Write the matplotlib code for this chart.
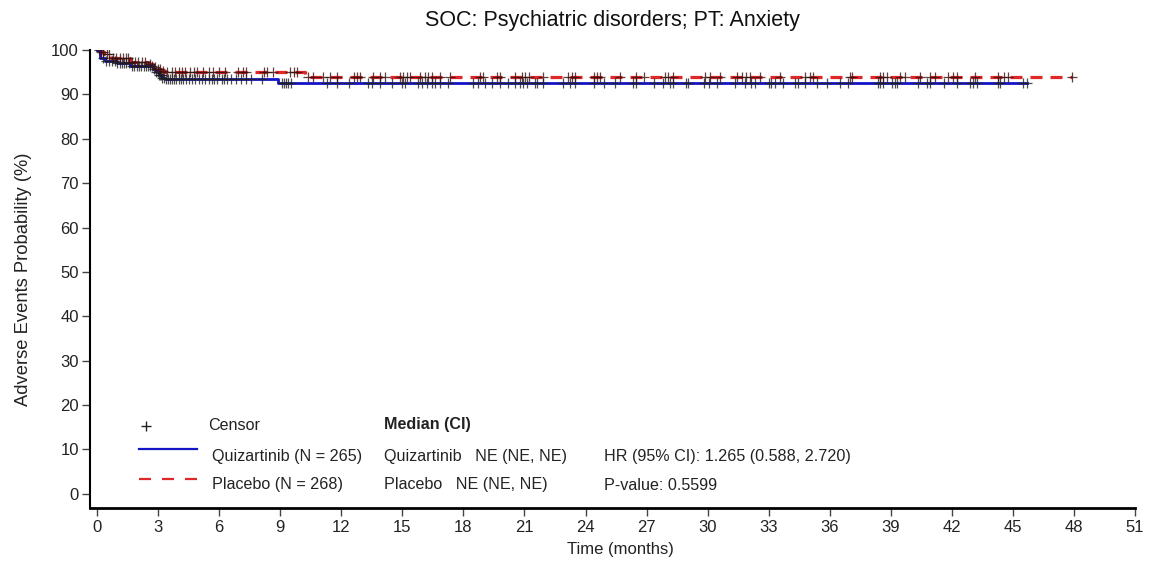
import numpy as np
import matplotlib
matplotlib.use("Agg")
import matplotlib.pyplot as plt

plt.rcParams['font.family'] = ['Liberation Sans', 'DejaVu Sans']
plt.rcParams['lines.scale_dashes'] = False

# ---------------- data ----------------
title = "SOC: Psychiatric disorders; PT: Anxiety"
x_ticks = list(range(0, 52, 3))
y_ticks = list(range(0, 101, 10))

# Quizartinib KM steps (time in months, probability %)
q_times = [0, 0.15, 0.4, 1.0, 1.6, 2.75, 2.9, 3.05, 3.2, 3.35, 8.9, 45.7]
q_surv = [100, 98.1, 97.6, 97.0, 96.5, 95.8, 95.0, 94.3, 93.8, 93.4, 92.55, 92.55]
q_censor = [0.3, 0.45, 0.6, 0.75, 0.9, 1.0, 1.1, 1.2, 1.3, 1.4, 1.55, 1.7, 1.8,
            1.95, 2.05, 2.15, 2.3, 2.4, 2.5, 2.6, 2.7, 2.8, 2.9, 3.0, 3.05,
            3.1, 3.15, 3.2, 3.3, 3.4, 3.5, 3.6, 3.7, 3.8, 3.9, 4.0, 4.1, 4.2,
            4.35, 4.5, 4.65, 4.8, 5.0, 5.15, 5.3, 5.5, 5.65, 5.75, 5.9, 6.15,
            6.25, 6.4, 6.6, 6.8, 7.05, 7.3, 7.55, 8.1, 9.1, 9.2, 9.3, 9.4,
            9.55, 11.3, 11.8, 12.4, 13.3, 13.5, 13.9, 14.5, 14.97, 15.13,
            15.79, 15.96, 16.2, 16.45, 16.61, 16.85, 17.26, 18.49, 18.74,
            19.07, 19.4, 19.8, 20.21, 20.54, 20.79, 20.95, 21.12, 21.52, 21.6,
            21.93, 22.91, 23.25, 23.5, 24.4, 24.9, 25.45, 26.35, 26.5, 27.35,
            27.8, 28.15, 28.3, 28.95, 29.05, 29.8, 30.05, 30.45, 31.35, 31.85,
            32.15, 32.35, 33.0, 33.1, 33.3, 33.72, 34.3, 34.46, 34.79, 35.37,
            35.86, 36.51, 36.92, 38.39, 38.48, 38.64, 39.05, 39.21, 39.3,
            40.36, 40.77, 40.93, 41.59, 42.25, 42.9, 43.06, 43.22, 44.28,
            44.37, 45.52, 45.68]

# Placebo KM steps
p_times = [0, 0.15, 0.35, 0.7, 1.6, 2.5, 2.75, 2.95, 3.15, 3.35, 10.2, 47.9]
p_surv = [100, 99.6, 99.1, 98.3, 97.4, 96.8, 96.2, 95.7, 95.3, 95.0, 93.9, 93.9]
p_censor = [0.1, 0.2, 0.3, 0.5, 0.6, 0.8, 0.95, 1.1, 1.25, 1.4, 1.5, 1.7, 1.85,
            2.0, 2.2, 2.35, 2.6, 2.85, 3.0, 3.1, 3.25, 3.42, 3.67, 3.83, 4.0,
            4.16, 4.32, 4.57, 4.75, 4.9, 5.2, 5.5, 5.7, 6.0, 6.3, 6.9, 7.15,
            7.3, 8.2, 8.34, 8.66, 9.48, 9.65, 9.81, 10.35, 10.63, 11.12, 11.45,
            11.78, 12.6, 12.76, 12.92, 13.58, 13.91, 14.15, 14.89, 15.05,
            15.22, 15.38, 15.87, 16.12, 16.28, 16.45, 16.85, 17.35, 18.82,
            18.98, 19.64, 19.8, 20.54, 20.87, 21.03, 21.2, 21.93, 23.16, 23.33,
            23.5, 24.4, 24.55, 24.7, 25.7, 26.5, 26.85, 27.9, 28.05, 28.3,
            29.85, 30.1, 30.6, 31.43, 31.68, 31.9, 32.09, 32.58, 33.56, 34.79,
            35.04, 35.2, 37.0, 37.09, 38.48, 38.64, 38.8, 39.46, 39.7, 40.44,
            40.93, 41.18, 41.83, 42.08, 42.24, 43.14, 44.29, 44.54, 44.78, 47.9]

q_label = "Quizartinib (N = 265)"
p_label = "Placebo (N = 268)"
q_median = "Quizartinib   NE (NE, NE)"
p_median = "Placebo   NE (NE, NE)"
hr_text = "HR (95% CI): 1.265 (0.588, 2.720)"
pv_text = "P-value: 0.5599"

# ---------------- plot ----------------
W, H = 1156, 565
fig = plt.figure(figsize=(W / 100, H / 100), dpi=100)
L, R, B, T = 90, 1135, 508, 50
ax = fig.add_axes([L / W, 1 - B / H, (R - L) / W, (B - T) / H])

BLUE = '#1414c8'
RED = '#e02828'
PX = 0.72  # points per pixel at 100 dpi


def step_value(times, surv, t):
    idx = np.searchsorted(np.asarray(times), np.asarray(t), side='right') - 1
    return np.asarray(surv)[idx]


ax.plot(q_times, q_surv, drawstyle='steps-post', color=BLUE, lw=2.0, zorder=3)
lp, = ax.plot(p_times, p_surv, drawstyle='steps-post', color=RED, lw=2.3, zorder=2)
lp.set_dashes([12 * PX, 8 * PX])

ax.plot(q_censor, step_value(q_times, q_surv, q_censor), ls='none', marker='+',
        ms=6.5, mew=0.9, color='#202020', alpha=0.8, zorder=4)
ax.plot(p_censor, step_value(p_times, p_surv, p_censor), ls='none', marker='+',
        ms=6.5, mew=0.9, color='#3a1010', alpha=0.8, zorder=4)

ax.set_xlim(-0.35, 51)
ax.set_ylim(-3.2, 100)
ax.set_xticks(x_ticks)
ax.set_yticks(y_ticks)
ax.tick_params(axis='both', labelsize=12, length=6, width=1, direction='out',
               colors='#444444', labelcolor='#222222')
ax.tick_params(axis='x', pad=3)
ax.tick_params(axis='y', pad=2)
for s in ['top', 'right']:
    ax.spines[s].set_visible(False)
ax.spines['left'].set_linewidth(1.5)
ax.spines['bottom'].set_linewidth(2)
ax.spines['left'].set_bounds(-3.2, 100)

ax.set_title(title, fontsize=15.5, pad=17, color='#111111')
ax.set_xlabel("Time (months)", fontsize=12, labelpad=3, color='#222222')
ax.xaxis.set_label_coords(0.5 + 8 / (R - L), -0.075)
ax.set_ylabel("Adverse Events Probability (%)", fontsize=13.2, labelpad=14,
              color='#222222')


def fx(px):
    return (px - L) / (R - L)


def fy(py):
    return (B - py) / (B - T)


tkw = dict(transform=ax.transAxes, fontsize=11.6, va='center', ha='left', color='#222222')
ax.plot([fx(146)], [fy(426)], transform=ax.transAxes, marker='+', ms=7, mew=1,
        color='#222222', clip_on=False)
ax.text(fx(208), fy(425), "Censor", **tkw)
ax.text(fx(384), fy(425), "Median (CI)", fontweight='bold', **tkw)

ax.plot([fx(139), fx(197)], [fy(449), fy(449)], transform=ax.transAxes,
        color=BLUE, lw=1.6, clip_on=False)
ax.text(fx(212), fy(456), q_label, **tkw)
ax.text(fx(384), fy(456), q_median, **tkw)
ax.text(fx(604), fy(456), hr_text, **tkw)

lk, = ax.plot([fx(139), fx(197)], [fy(479), fy(479)], transform=ax.transAxes,
              color=RED, lw=1.6, clip_on=False)
lk.set_dashes([12 * PX, 11 * PX])
ax.text(fx(212), fy(485), p_label, **tkw)
ax.text(fx(384), fy(485), p_median, **tkw)
ax.text(fx(604), fy(485), pv_text, **tkw)

fig.savefig("out.png", dpi=100, facecolor='white')
